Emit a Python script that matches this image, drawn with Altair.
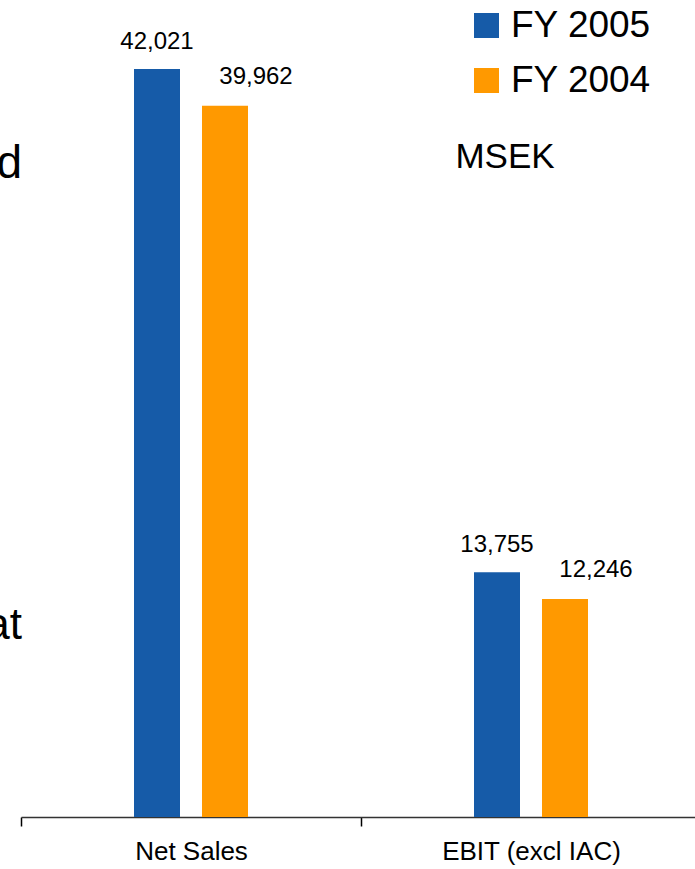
import altair as alt
import pandas as pd

categories = ["Net Sales", "EBIT (excl IAC)"]
series = ["FY 2005", "FY 2004"]
fy2005 = [42021, 13755]
fy2004 = [39962, 12246]
colors = ["#165BA8", "#FF9900"]

rows = []
for i, c in enumerate(categories):
    rows.append({"category": c, "series": series[0], "value": fy2005[i]})
    rows.append({"category": c, "series": series[1], "value": fy2004[i]})
df = pd.DataFrame(rows)

FONT = "Liberation Sans"

x_enc = alt.X(
    "category:N",
    sort=categories,
    scale=alt.Scale(range=[0, 680], paddingInner=0, paddingOuter=0),
    axis=alt.Axis(
        title=None,
        labelAngle=0,
        labelFontSize=26,
        labelColor="black",
        labelFont=FONT,
        labelPadding=12,
        tickBand="extent",
        tickSize=9,
        tickColor="black",
        tickWidth=1.5,
        domainColor="#333333",
        domainWidth=1.5,
        grid=False,
    ),
)
xoff = alt.XOffset(
    "series:N",
    sort=series,
    scale=alt.Scale(range=[113, 227], paddingInner=0.3235, paddingOuter=0),
)
y_enc = alt.Y(
    "value:Q",
    scale=alt.Scale(domain=[0, 45900], nice=False, zero=True),
    axis=None,
)

bars = alt.Chart(df).mark_bar().encode(
    x=x_enc,
    xOffset=xoff,
    y=y_enc,
    color=alt.Color(
        "series:N",
        sort=series,
        scale=alt.Scale(domain=series, range=colors),
        legend=alt.Legend(
            title=None,
            orient="none",
            legendX=447,
            legendY=7,
            symbolType="square",
            symbolSize=625,
            symbolStrokeWidth=0,
            labelFontSize=37,
            labelFont=FONT,
            labelColor="black",
            labelOffset=6,
            labelLimit=400,
            rowPadding=17,
            padding=0,
        ),
    ),
)

lab05 = alt.Chart(df).transform_filter(
    alt.datum.series == series[0]
).mark_text(
    font=FONT, fontSize=24, color="black", baseline="alphabetic", dy=-20
).encode(
    x=alt.X("category:N", sort=categories),
    xOffset=xoff,
    y=y_enc,
    text=alt.Text("value:Q", format=","),
)

lab04 = alt.Chart(df).transform_filter(
    alt.datum.series == series[1]
).mark_text(
    font=FONT, fontSize=24, color="black", baseline="alphabetic", dy=-22, dx=31
).encode(
    x=alt.X("category:N", sort=categories),
    xOffset=xoff,
    y=y_enc,
    text=alt.Text("value:Q", format=","),
)

msek = alt.Chart(pd.DataFrame({"t": ["MSEK"]})).mark_text(
    font=FONT, fontSize=35, color="black", align="center", baseline="alphabetic"
).encode(x=alt.value(484), y=alt.value(168), text="t:N")

frag_d = alt.Chart(pd.DataFrame({"t": ["d"]})).mark_text(
    font=FONT, fontSize=46, color="black", align="right", baseline="alphabetic"
).encode(x=alt.value(1), y=alt.value(178), text="t:N")

frag_at = alt.Chart(pd.DataFrame({"t": ["at"]})).mark_text(
    font=FONT, fontSize=44, color="black", align="right", baseline="alphabetic"
).encode(x=alt.value(1), y=alt.value(639), text="t:N")

chart = alt.layer(bars, lab05, lab04, msek, frag_d, frag_at).properties(
    width=674,
    height=817,
    padding={"left": 21, "right": 0, "top": 0, "bottom": 52},
    autosize=alt.AutoSizeParams(type="none"),
    background="white",
).configure_view(stroke=None).configure_text(font=FONT)

chart.save("out.html", embed_options={"renderer": "svg", "actions": False})
